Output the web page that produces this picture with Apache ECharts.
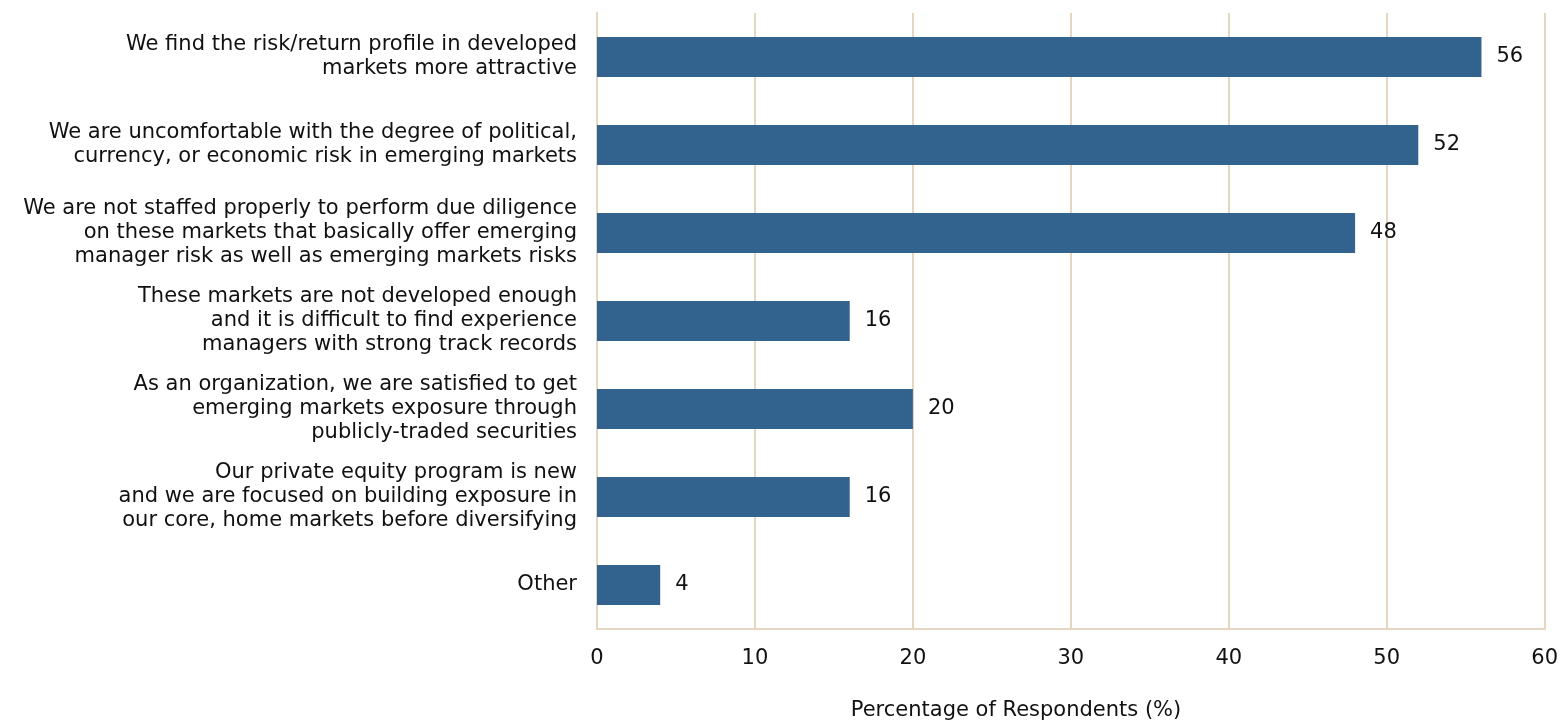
<!DOCTYPE html>
<html>
<head>
<meta charset="utf-8">
<script src="https://cdn.jsdelivr.net/npm/echarts@6/dist/echarts.min.js"></script>
<style>
  html, body { margin: 0; padding: 0; background: #ffffff; }
  #chart { width: 1561px; height: 721px; }
</style>
</head>
<body>
<div id="chart"></div>
<script>
// Reasons for not investing in emerging markets (top to bottom)
const categories = [
  "We find the risk/return profile in developed\nmarkets more attractive",
  "We are uncomfortable with the degree of political,\ncurrency, or economic risk in emerging markets",
  "We are not staffed properly to perform due diligence\non these markets that basically offer emerging\nmanager risk as well as emerging markets risks",
  "These markets are not developed enough\nand it is difficult to find experience\nmanagers with strong track records",
  "As an organization, we are satisfied to get\nemerging markets exposure through\npublicly-traded securities",
  "Our private equity program is new\nand we are focused on building exposure in\nour core, home markets before diversifying",
  "Other"
];
const values = [56, 52, 48, 16, 20, 16, 4];
const axisTitle = "Percentage of Respondents (%)";

const FONT = "DejaVu Sans";
const FONT_SIZE = 21;
const GRID_COLOR = "#e5d6c2";

const chart = echarts.init(document.getElementById('chart'), null, { renderer: 'canvas' });
chart.setOption({
  animation: false,
  textStyle: { fontFamily: FONT },
  grid: { left: 597, right: 13, top: 13, bottom: 92, containLabel: false },
  xAxis: {
    type: 'value',
    min: 0,
    max: 60,
    interval: 10,
    axisLine: { show: true, lineStyle: { color: GRID_COLOR, width: 2 } },
    axisTick: { show: false },
    axisLabel: { color: '#111', fontSize: FONT_SIZE, fontFamily: FONT, margin: 19 },
    splitLine: { show: true, lineStyle: { color: GRID_COLOR, width: 2 } }
  },
  yAxis: {
    type: 'category',
    inverse: true,
    data: categories,
    axisLine: { show: true, lineStyle: { color: GRID_COLOR, width: 2 } },
    axisTick: { show: false },
    axisLabel: { color: '#111', fontSize: FONT_SIZE, fontFamily: FONT, margin: 20, lineHeight: 24, align: 'right' }
  },
  graphic: [{
    type: 'text',
    x: 1016,
    y: 711,
    style: {
      text: axisTitle, fill: '#111', fontSize: FONT_SIZE, fontFamily: FONT,
      align: 'center', verticalAlign: 'middle'
    }
  }],
  series: [{
    type: 'bar',
    data: values,
    barWidth: 40,
    itemStyle: { color: '#32638f' },
    label: { show: true, position: 'right', distance: 15, color: '#111', fontSize: FONT_SIZE, fontFamily: FONT }
  }]
});
</script>
</body>
</html>
